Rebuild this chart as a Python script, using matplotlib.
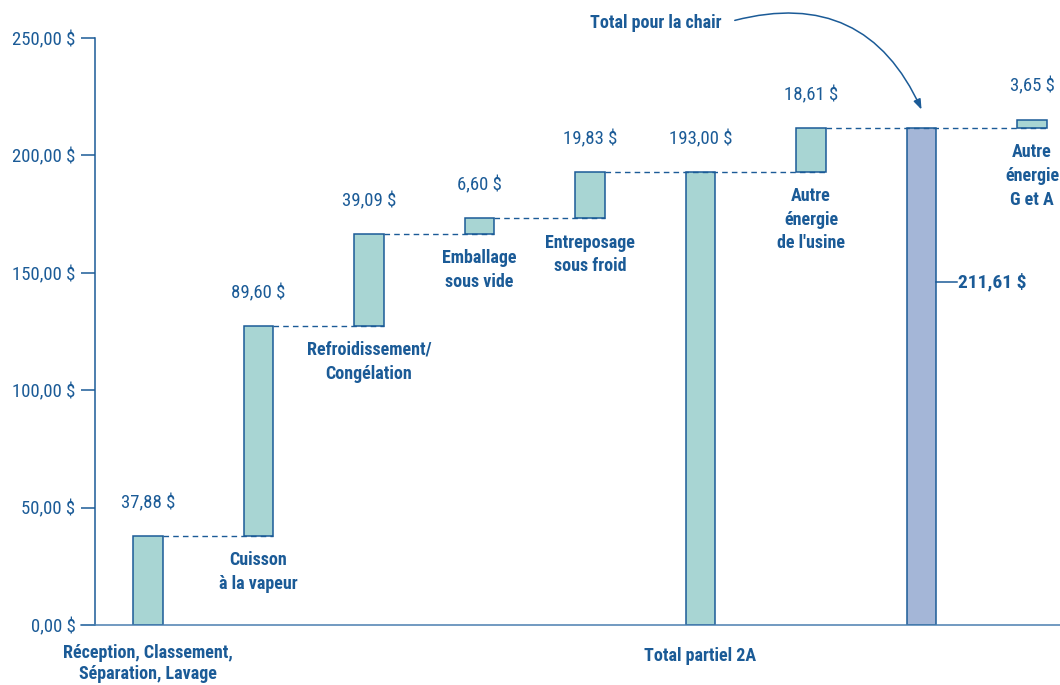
import numpy as np
import matplotlib
matplotlib.use("Agg")
import matplotlib.pyplot as plt

plt.rcParams['font.family'] = ['Roboto Condensed', 'Roboto', 'DejaVu Sans']

# Data
categories = ["Réception, Classement,\nSéparation, Lavage", "Cuisson\nà la vapeur",
              "Refroidissement/\nCongélation", "Emballage\nsous vide",
              "Entreposage\nsous froid", "Total partiel 2A", "Autre\nénergie\nde l'usine",
              "Total pour la chair", "Autre\nénergie\nG et A"]
values = [37.88, 89.60, 39.09, 6.60, 19.83, 193.00, 18.61, 211.61, 3.65]
is_total = [False, False, False, False, False, True, False, True, False]
yticks = [0, 50, 100, 150, 200, 250]

BLUE = '#1b5b97'
TEAL = '#a8d5d3'
LAV = '#a4b6d7'
FS = 13.5   # regular text
FB = 13     # bold labels


def money(v):
    return f"{v:.2f}".replace('.', ',') + " $"


def main():
    bottoms = []
    running = 0.0
    for v, tot in zip(values, is_total):
        if tot:
            bottoms.append(0.0)
            running = v
        else:
            bottoms.append(running)
            running += v
    tops = [b + v for b, v in zip(bottoms, values)]

    fig = plt.figure(figsize=(10.6, 6.85), dpi=100)
    ax = fig.add_axes([81 / 1060, 60 / 685, 979 / 1060, 587 / 685])
    x = np.arange(len(values))
    w = 0.265
    colors = [TEAL] * len(values)
    colors[7] = LAV
    ax.bar(x, values, bottom=bottoms, width=w, color=colors, edgecolor=BLUE,
           linewidth=1.1, zorder=2)

    # dashed connectors
    prev = 0
    for i in range(1, len(values)):
        if is_total[i]:
            continue
        ax.plot([prev + w / 2, i + w / 2], [bottoms[i]] * 2, color=BLUE,
                lw=1.0, ls=(0, (4, 3)), zorder=3)
        prev = i

    # values above bars
    for i, v in enumerate(values):
        if i == 7:
            continue
        ax.text(i, tops[i] + 14, money(v), ha='center', va='center',
                fontsize=FS, color=BLUE)

    # step names below bars
    for i, lab in enumerate(categories):
        if is_total[i] or i == 0:
            continue
        ax.text(i, bottoms[i] - 6.5, lab, ha='center', va='top', fontsize=FB,
                fontweight='bold', color=BLUE, linespacing=1.4)
    ax.text(0, -8.3, categories[0], ha='center', va='top', fontsize=FB,
            fontweight='bold', color=BLUE, linespacing=1.2, clip_on=False)
    ax.text(5, -9.5, categories[5], ha='center', va='top', fontsize=FB,
            fontweight='bold', color=BLUE, clip_on=False)

    # total with leader
    ax.plot([7 + w / 2, 7.32], [146, 146], color=BLUE, lw=1.1, zorder=3)
    ax.text(7.33, 146, money(values[7]), ha='left', va='center', fontsize=14,
            fontweight='bold', color=BLUE)

    ax.text(5.19, 256.5, categories[7], ha='right', va='center', fontsize=FB,
            fontweight='bold', color=BLUE, clip_on=False)
    ax.annotate("", xy=(7.0, 219.5), xytext=(5.31, 257.5),
                arrowprops=dict(arrowstyle='-|>,head_length=0.6,head_width=0.22',
                                color=BLUE, lw=1.1,
                                connectionstyle='arc3,rad=-0.42',
                                shrinkA=0, shrinkB=0),
                annotation_clip=False)

    ax.set_xlim(-0.606, 8.253)
    ax.set_ylim(0, 250)
    ax.set_yticks(yticks)
    ax.set_yticklabels([money(t) for t in yticks])
    ax.set_xticks([])
    for s in ['top', 'right']:
        ax.spines[s].set_visible(False)
    ax.spines['left'].set_position(('data', -0.48))
    ax.spines['left'].set_color(BLUE)
    ax.spines['left'].set_linewidth(1.1)
    ax.spines['bottom'].set_color('#4a7fb0')
    ax.spines['bottom'].set_linewidth(1.1)
    ax.tick_params(axis='y', colors=BLUE, labelcolor=BLUE, labelsize=FS,
                   length=10, width=1.1, pad=4)
    ax.patch.set_alpha(0)

    plt.savefig('out.png', dpi=100)


if __name__ == "__main__":
    main()
